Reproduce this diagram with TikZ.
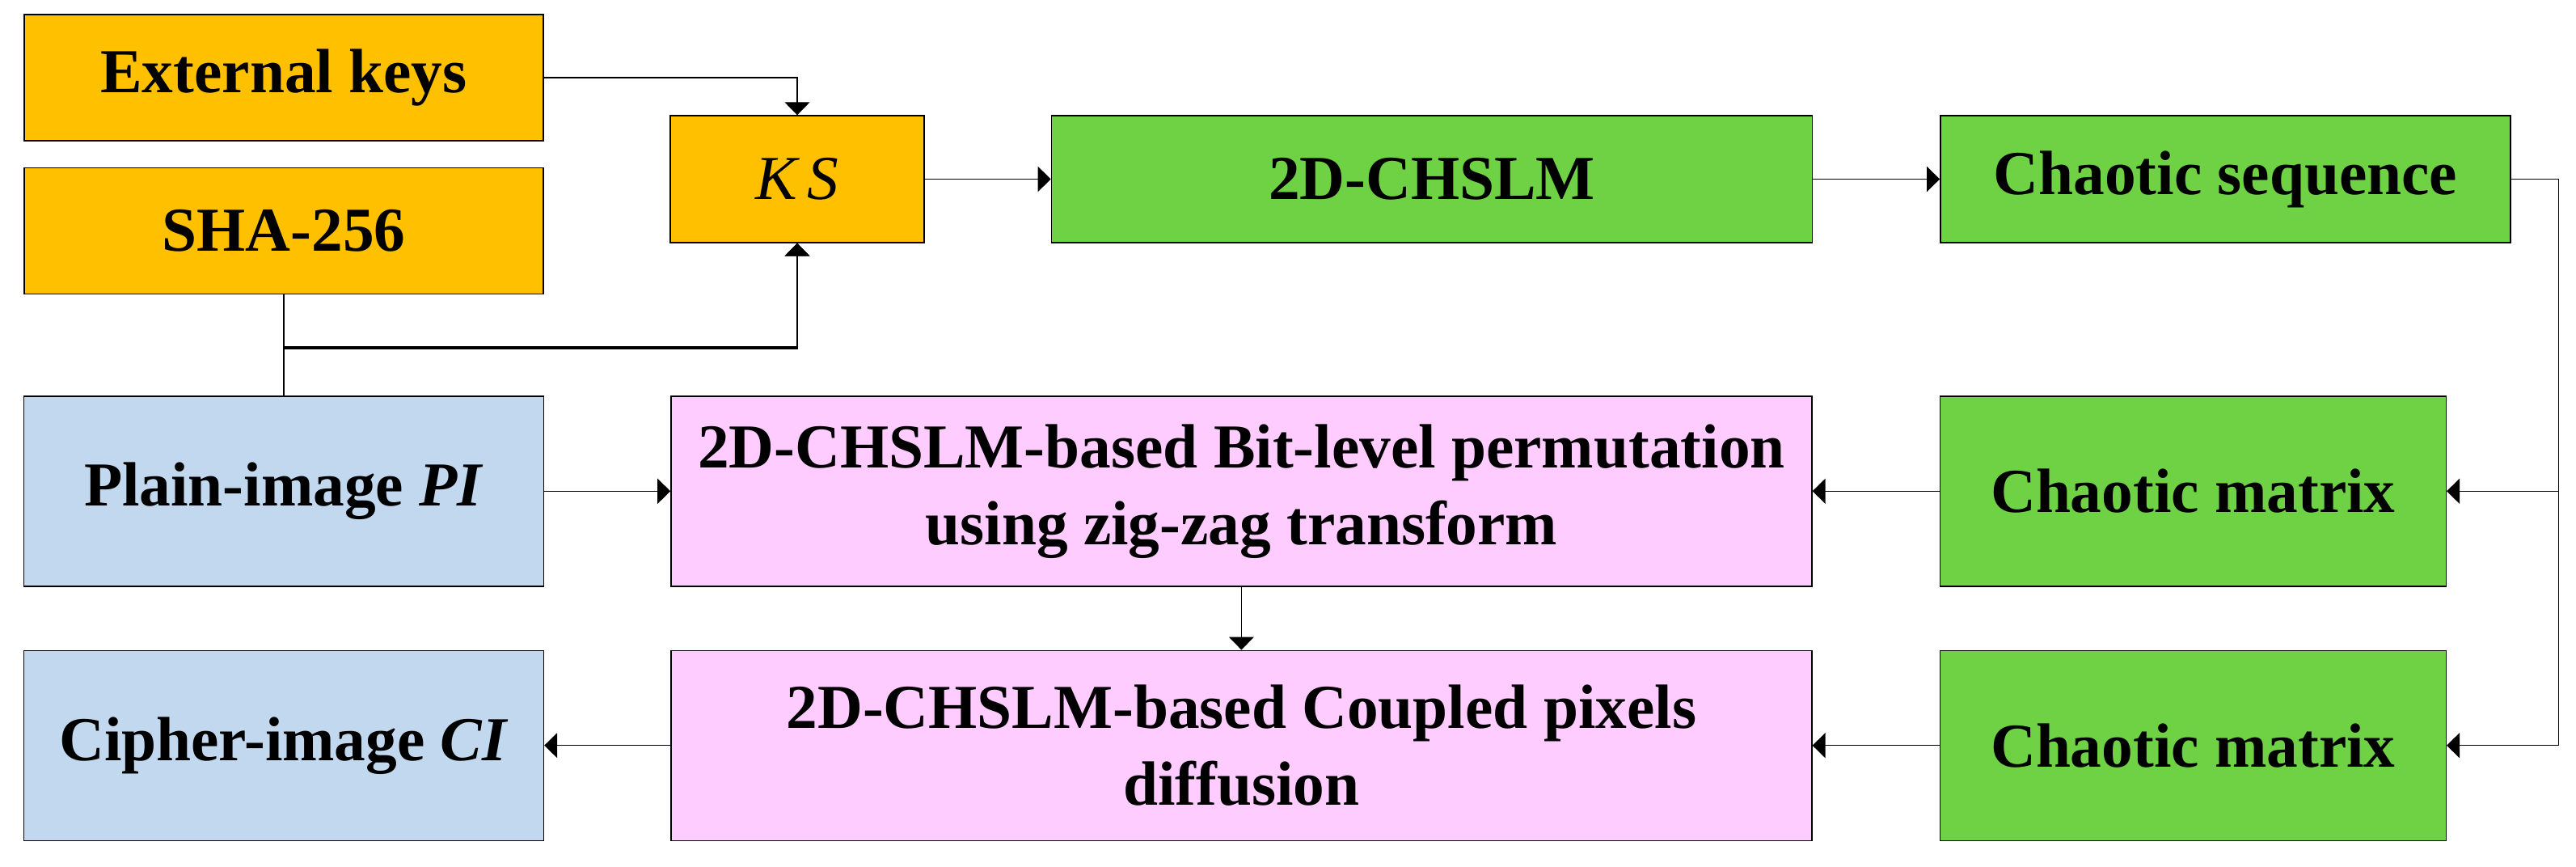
\documentclass[tikz,border=0pt]{standalone}
\usepackage{fontspec}
\setmainfont{Liberation Serif}
\usepackage{tikz}
\usetikzlibrary{positioning,arrows.meta}
\definecolor{keyorange}{RGB}{255,192,0}
\definecolor{chaosgreen}{RGB}{110,210,68}
\definecolor{imgblue}{RGB}{194,216,238}
\definecolor{procpink}{RGB}{255,204,255}
\tikzstyle{blk}=[draw=black, line width=0.4pt, align=center, inner sep=0pt,
        font=\fontsize{22}{27}\selectfont\bfseries]
\tikzstyle{keybox}=[blk, fill=keyorange]
\tikzstyle{chaosbox}=[blk, fill=chaosgreen]
\tikzstyle{imgbox}=[blk, fill=imgblue, minimum width=6.43cm, minimum height=2.35cm]
\tikzstyle{procbox}=[blk, fill=procpink, minimum width=14.11cm, minimum height=2.35cm]

\begin{document}
\begin{tikzpicture}[>={Triangle[length=0.16cm, width=0.31cm]}, line width=0.4pt]
        \useasboundingbox (0,0) rectangle (31.86,-10.72);

        \node[keybox, minimum width=6.42cm, minimum height=1.56cm] (0) at (3.51,-0.96)
            {External keys};

        \node[keybox, minimum width=6.42cm, minimum height=1.56cm, below=0.32cm of 0] (1)
            {SHA-256};

        \node[keybox, minimum width=3.14cm, minimum height=1.57cm,
            font=\fontsize{22}{27}\selectfont\itshape] (2) at (9.86,-2.215)
            {K\,S};

        \node[chaosbox, minimum width=9.41cm, minimum height=1.57cm, right=1.56cm of 2] (3)
            {2D-CHSLM};

        \node[chaosbox, minimum width=7.05cm, minimum height=1.57cm, right=1.57cm of 3] (4)
            {Chaotic sequence};

        \node[imgbox, below=1.25cm of 1] (5)
            {Plain-image \textit{PI}};

        \node[procbox, right=1.56cm of 5] (6)
            {2D-CHSLM-based Bit-level permutation\\ using zig-zag transform};

        \node[chaosbox, minimum width=6.26cm, minimum height=2.35cm, right=1.57cm of 6] (7)
            {Chaotic matrix};

        \node[imgbox, below=0.78cm of 5] (8)
            {Cipher-image \textit{CI}};

        \node[procbox, below=0.78cm of 6] (9)
            {2D-CHSLM-based Coupled pixels\\ diffusion};

        \node[chaosbox, minimum width=6.26cm, minimum height=2.35cm, below=0.78cm of 7] (10)
            {Chaotic matrix};

        \draw[->] (0) -| (2);
        \draw[->] (1.south) -- ++(0,-0.65) -| (2.south);
        \draw[->] (5.north) -- ++(0,0.58) -| (2.south);
        \draw[->] (2) to (3);
        \draw[->] (3) to (4);
        \draw[->] (4.east) -- ++(0.59,0) |- (7.east);
        \draw[->] (4.east) -- ++(0.59,0) |- (10.east);
        \draw[->] (7) to (6);
        \draw[->] (10) to (9);
        \draw[->] (5) to (6);
        \draw[->] (6) to (9);
        \draw[->] (9) to (8);

    \end{tikzpicture}
\end{document}
